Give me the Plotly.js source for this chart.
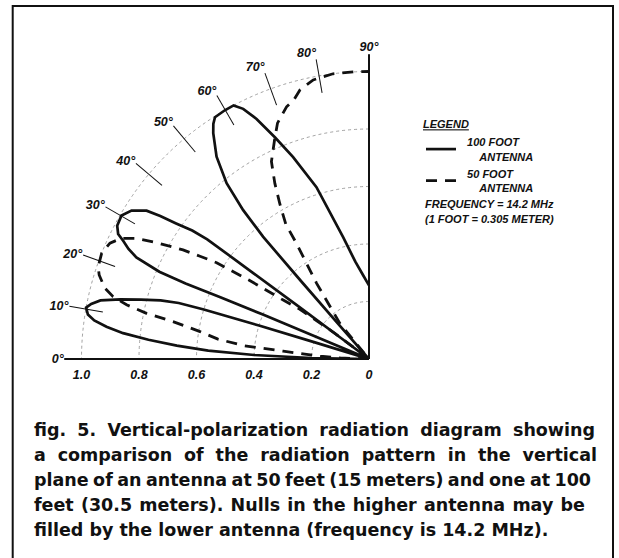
<!DOCTYPE html>
<html>
<head>
<meta charset="utf-8">
<script src="https://cdn.plot.ly/plotly-3.0.1.min.js"></script>
<style>html,body{margin:0;padding:0;background:#fff;}#chart{width:619px;height:558px;}</style>
</head>
<body>
<div id="chart"></div>
<script>
// ---- data (elevation angle in degrees, relative field strength) ----
var solidTheta = [0, 1, 2, 3, 4, 5, 6, 7, 8, 9, 10.3, 11.2, 12.3, 13.5, 14.6, 15.7, 16.4, 16.7, 16.9, 17.1, 20,
  22.7, 22.7, 22.6, 22.4, 22.6, 23.6, 24.6, 25.7, 26.5, 27.9, 30.1, 32, 33.7, 34.4, 35.1, 36, 36.5, 36.6, 36.7, 36.8, 43,
  48.8, 48.9, 49.1, 49.8, 51, 53, 55.4, 56.5, 57.5, 59.9, 61.9, 63.3, 64.9, 67, 69.4, 73, 78, 82, 86, 90];
var solidR = [0, 0.2, 0.4, 0.56, 0.67, 0.77, 0.86, 0.92, 0.965, 0.99, 1.0, 0.985, 0.956, 0.889, 0.82, 0.753, 0.69, 0.6, 0.4, 0.2, 0,
  0.2, 0.4, 0.56, 0.69, 0.79, 0.883, 0.92, 0.949, 0.975, 0.991, 0.995, 0.974, 0.93, 0.88, 0.82, 0.76, 0.7, 0.5, 0.3, 0.1, 0,
  0.15, 0.36, 0.563, 0.678, 0.787, 0.881, 0.954, 0.981, 0.997, 1.0, 1.0, 0.974, 0.922, 0.838, 0.75, 0.625, 0.433, 0.342, 0.292, 0.256];

var dashTheta = [0, 2, 3.3, 4.3, 5.2, 6.1, 7.5, 9.3, 10.8, 11.6, 12.6, 13.7, 15, 17.3, 18.8, 21.6, 24.1, 26, 27.4, 28.7, 30.4,
  31.3, 32.3, 33.3, 34.5, 35.7, 37, 44, 50.7, 52.8, 55.3, 57.9, 58.3, 60.1, 61.8, 63.7, 66.9, 68.8, 71.9, 73.8, 75.6, 78.7, 82.8, 86.9, 90];
var dashR = [0, 0.1, 0.17, 0.224, 0.3, 0.44, 0.53, 0.6, 0.694, 0.79, 0.864, 0.916, 0.951, 0.983, 0.995, 1.0, 0.987, 0.958, 0.911, 0.843, 0.75,
  0.688, 0.627, 0.5, 0.362, 0.296, 0.15, 0, 0.16, 0.207, 0.32, 0.475, 0.55, 0.622, 0.693, 0.766, 0.835, 0.88, 0.923, 0.938, 0.966, 0.99, 1.0, 1.0, 1.0];

var seriesNames = ['\u00a0\u00a0100 FOOT<br>\u00a0\u00a0\u00a0\u00a0\u00a0\u00a0ANTENNA',
                   '\u00a0\u00a050 FOOT<br>\u00a0\u00a0\u00a0\u00a0\u00a0\u00a0ANTENNA'];

var angleTicks = [0, 10, 20, 30, 40, 50, 60, 70, 80, 90];
var angleTickText = ['0°', '10°', '20°', '30°', '40°', '50°', '60°', '70°', '80°', '90°'];
var radialTicks = [0, 0.2, 0.4, 0.6, 0.8, 1.0];
var radialTickText = ['0', '0.2', '0.4', '0.6', '0.8', '1.0'];

var captionLines = [
  'fig. 5. Vertical-polarization radiation diagram showing',
  'a comparison of the radiation pattern in the vertical',
  'plane of an antenna at 50 feet (15 meters) and one at 100',
  'feet (30.5 meters). Nulls in the higher antenna may be',
  'filled by the lower antenna (frequency is 14.2 MHz).'
];
var noteLines = ['FREQUENCY = 14.2 MHz', '(1 FOOT = 0.305 METER)'];

// ---- layout ----
var W = 619, H = 558;
var FONT = 'Liberation Sans, Arial, Helvetica, sans-serif';
var CAPFONT = 'DejaVu Sans, Verdana, sans-serif';
var ox = 369, oy = 359, rPx = 287.5, rMax = 1.06;
var half = rPx * rMax;
var dom = {x: [(ox - half) / W, ox / W], y: [(H - oy) / H, (H - oy + half) / H]};
var smallFont = {family: FONT, size: 11, color: '#111', style: 'italic', weight: 'bold'};
var tickFont = {family: FONT, size: 12.5, color: '#111', style: 'italic', weight: 'bold'};
var captionLeft = 32;
var captionRight = [595, 597, 591, 585];   // justified right edges of the caption lines (last line ragged)

var traces = [
  {type: 'scatterpolar', mode: 'lines', r: solidR, theta: solidTheta, name: seriesNames[0],
   line: {color: '#111', width: 2.7}, hoverinfo: 'skip'},
  {type: 'scatterpolar', mode: 'lines', r: dashR, theta: dashTheta, name: seriesNames[1],
   line: {color: '#111', width: 2.8, dash: '11px,8px'}, hoverinfo: 'skip'},
  {type: 'scatterpolar', mode: 'lines', r: [], theta: [], subplot: 'polar2', showlegend: false, hoverinfo: 'skip'}
];

var annotations = captionLines.map(function (t, i) {
  return {text: t, xref: 'paper', yref: 'paper', x: captionLeft / W, xanchor: 'left',
    y: (H - (430 + 25 * i)) / H, yanchor: 'middle', showarrow: false,
    font: {family: CAPFONT, size: 17.5, color: '#111', weight: 'bold'}};
});
noteLines.forEach(function (t, i) {
  annotations.push({text: t, xref: 'paper', yref: 'paper', x: 423 / W, xanchor: 'left',
    y: (H - (204 + 15 * i)) / H, yanchor: 'middle', showarrow: false, font: smallFont});
});

var layout = {
  width: W, height: H, margin: {l: 0, r: 0, t: 0, b: 0},
  paper_bgcolor: '#fff', plot_bgcolor: '#fff',
  showlegend: true,
  legend: {x: 421 / W, y: (H - 114) / H, xanchor: 'left', yanchor: 'top',
    bgcolor: 'rgba(0,0,0,0)', font: smallFont, tracegroupgap: 0,
    title: {text: '<u>LEGEND</u>', font: smallFont}},
  polar: {
    domain: dom, sector: [90, 180], bgcolor: 'rgba(0,0,0,0)',
    angularaxis: {rotation: 180, direction: 'clockwise', tickmode: 'array',
      tickvals: angleTicks, ticktext: angleTickText, ticks: 'inside', ticklen: 34,
      tickwidth: 1, tickcolor: '#111', showgrid: false, showline: false,
      tickfont: tickFont},
    radialaxis: {range: [0, rMax], angle: 180, side: 'counterclockwise', tickangle: 180, tickmode: 'array',
      tickvals: radialTicks, ticktext: radialTickText, showline: true, linewidth: 2,
      linecolor: '#111', ticks: 'outside', ticklen: 1, tickcolor: 'rgba(0,0,0,0)',
      showgrid: true, gridcolor: '#8a8a8a', gridwidth: 0.8, griddash: 'dot',
      tickfont: tickFont}
  },
  polar2: {
    domain: dom, sector: [90, 180], bgcolor: 'rgba(0,0,0,0)',
    angularaxis: {rotation: 180, direction: 'clockwise', visible: false, showgrid: false, showline: false},
    radialaxis: {range: [0, rMax], angle: 90, showline: true, linewidth: 2, linecolor: '#111',
      showticklabels: false, ticks: '', showgrid: false}
  },
  shapes: [{type: 'rect', xref: 'paper', yref: 'paper', x0: 12.7 / W, x1: 613 / W,
    y0: -0.05, y1: (H - 6) / H, line: {color: '#111', width: 2}}],
  annotations: annotations
};

Plotly.newPlot('chart', traces, layout, {staticPlot: true, displayModeBar: false}).then(function (gd) {
  // justify the caption lines (word spacing), keeping the left edge fixed
  var groups = gd.querySelectorAll('g.annotation');
  groups.forEach(function (g) {
    var idx = +g.getAttribute('data-index');
    if (!(idx < captionRight.length)) return;
    var txt = g.querySelector('text.annotation-text');
    if (!txt) return;
    var spaces = (captionLines[idx].match(/ /g) || []).length;
    if (!spaces) return;
    var before = txt.getBoundingClientRect();
    var extra = ((captionRight[idx] - before.left) - before.width) / spaces;
    txt.style.wordSpacing = extra.toFixed(2) + 'px';
    var after = txt.getBoundingClientRect();
    var shift = before.left - after.left;
    var tr = txt.getAttribute('transform') || '';
    txt.setAttribute('transform', (tr + ' translate(' + shift.toFixed(2) + ',0)').trim());
  });
});
</script>
</body>
</html>
